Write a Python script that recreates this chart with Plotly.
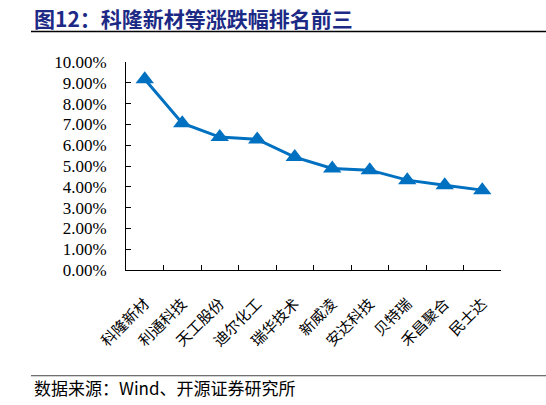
import plotly.graph_objects as go

categories = ["科隆新材", "利通科技", "天工股份", "迪尔化工", "瑞华技术",
              "新威凌", "安达科技", "贝特瑞", "禾昌聚合", "民士达"]
values = [0.0917, 0.0706, 0.0639, 0.0628, 0.0543,
          0.0488, 0.0480, 0.0432, 0.0408, 0.0384]
title_text = "图12：科隆新材等涨跌幅排名前三"
source_text = "数据来源：Wind、开源证券研究所"

W, H = 546, 405
L, R, T, B = 126, 45, 61.5, 135
pw, ph = W - L - R, H - T - B

def px(x):
    return (x - L) / pw

def py(y):
    return (H - B - y) / ph

fig = go.Figure()
fig.add_trace(go.Scatter(
    x=categories, y=values, mode="lines+markers",
    line=dict(color="#0070C0", width=3),
    marker=dict(symbol="triangle-up", size=16, color="#0070C0"),
    hoverinfo="skip",
))

serif = "Liberation Serif, Times New Roman, serif"
cjk = "Noto Sans CJK SC"

fig.update_layout(
    width=W, height=H,
    margin=dict(l=L, r=R, t=T, b=B, autoexpand=False),
    paper_bgcolor="white", plot_bgcolor="white",
    showlegend=False,
    xaxis=dict(
        type="category", range=[-0.5, 9.5],
        showline=True, linecolor="black", linewidth=1,
        ticks="inside", tickson="boundaries", ticklen=5, tickcolor="black",
        showgrid=False, zeroline=False, tickangle=-45,
        ticklabelstandoff=18,
        tickfont=dict(family=cjk, size=15, color="black"),
    ),
    yaxis=dict(
        range=[0, 0.10], dtick=0.01, tickformat=".2%",
        showline=True, linecolor="black", linewidth=1,
        ticks="inside", ticklen=5, tickcolor="black",
        showgrid=False, zeroline=False,
        ticklabelstandoff=15,
        tickfont=dict(family=serif, size=17, color="black"),
    ),
    shapes=[
        dict(type="line", xref="paper", yref="paper",
             x0=px(31), x1=px(546), y0=py(31), y1=py(31),
             line=dict(color="black", width=1.5)),
        dict(type="line", xref="paper", yref="paper",
             x0=px(31), x1=px(546), y0=py(376), y1=py(376),
             line=dict(color="#444", width=1)),
    ],
    annotations=[
        dict(text="<b>" + title_text + "</b>", xref="paper", yref="paper",
             x=px(32), y=py(17), xanchor="left", yanchor="middle",
             showarrow=False,
             font=dict(family=cjk, size=21, color="#1c2a86")),
        dict(text=source_text, xref="paper", yref="paper",
             x=px(32), y=py(388), xanchor="left", yanchor="middle",
             showarrow=False,
             font=dict(family=cjk, size=17, color="black")),
    ],
)

fig.write_html("out.html", config={"displayModeBar": False},
               post_script="document.body.style.margin='0';")
